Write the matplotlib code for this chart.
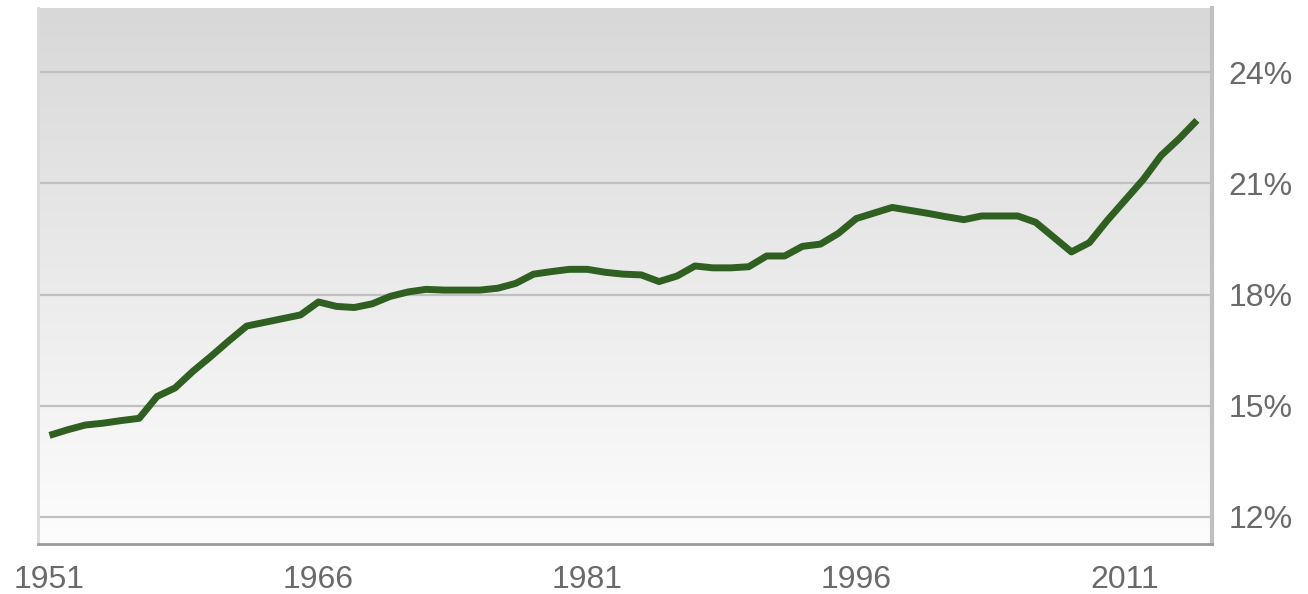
import numpy as np
import matplotlib.pyplot as plt

# ==============================
# DATA
# ==============================

years = list(range(1951, 2016))

share = [
    14.20, 14.35, 14.48, 14.53, 14.60, 14.66, 15.25, 15.48, 15.93, 16.33,
    16.75, 17.15, 17.25, 17.35, 17.45, 17.80, 17.68, 17.65, 17.75, 17.95,
    18.07, 18.14, 18.12, 18.12, 18.12, 18.17, 18.30, 18.55, 18.62, 18.68,
    18.68, 18.60, 18.55, 18.53, 18.35, 18.50, 18.77, 18.72, 18.72, 18.75,
    19.04, 19.04, 19.30, 19.36, 19.65, 20.05, 20.20, 20.35, 20.27, 20.19,
    20.10, 20.02, 20.12, 20.12, 20.12, 19.95, 19.55, 19.15, 19.40, 20.00,
    20.55, 21.10, 21.75, 22.20, 22.70,
]

x_ticks = [1951, 1966, 1981, 1996, 2011]
y_ticks = [12, 15, 18, 21, 24]

# ==============================
# FIGURE
# ==============================

fig = plt.figure(figsize=(13.08, 5.94), dpi=100)
ax = fig.add_axes([0.0291, 0.0842, 0.8975, 0.9023])

x_min, x_max = 1950.36, 2015.84
y_min, y_max = 11.27, 25.73

# gray gradient background
grad = np.linspace(0, 1, 256).reshape(-1, 1)
ax.imshow(grad, extent=[x_min, x_max, y_min, y_max], aspect='auto',
          cmap=plt.matplotlib.colors.LinearSegmentedColormap.from_list(
              'bg', ['#fdfdfd', '#d8d8d8']),
          origin='lower', zorder=0)

# grid lines
for v in y_ticks:
    ax.axhline(v, color='#c0c0c0', linewidth=1.6, zorder=1)

ax.plot(years, share, color='#2f5f21', linewidth=5.0, zorder=3,
        solid_capstyle='butt', solid_joinstyle='round')

ax.set_xlim(x_min, x_max)
ax.set_ylim(y_min, y_max)

ax.set_xticks(x_ticks)
ax.set_xticklabels([str(y) for y in x_ticks])
ax.set_yticks(y_ticks)
ax.set_yticklabels([f'{v}%' for v in y_ticks])

ax.yaxis.tick_right()
ax.tick_params(axis='both', length=0, labelsize=23, labelcolor='#6a6a6a')
ax.tick_params(axis='x', pad=15)
ax.tick_params(axis='y', pad=12)
for lab in ax.get_xticklabels() + ax.get_yticklabels():
    lab.set_family('Liberation Sans')

# borders
ax.spines['top'].set_visible(False)
ax.spines['left'].set_color('#dadada')
ax.spines['left'].set_linewidth(2)
ax.spines['right'].set_color('#c0c0c0')
ax.spines['right'].set_linewidth(3)
ax.spines['bottom'].set_color('#9a9a9a')
ax.spines['bottom'].set_linewidth(2)

plt.savefig('out.png', dpi=100)
plt.close()
